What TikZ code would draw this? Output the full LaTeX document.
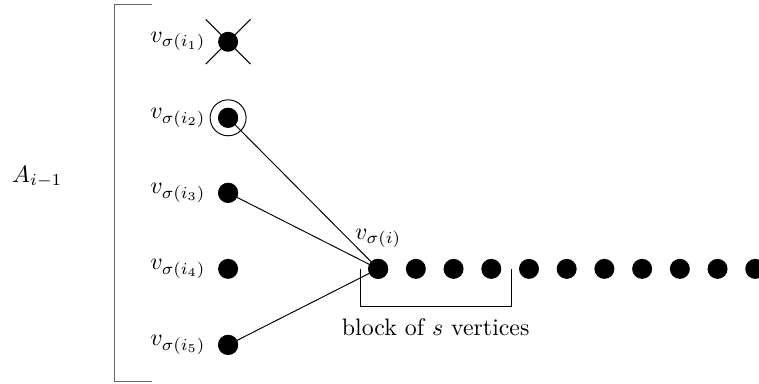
\documentclass[tikz,border=0pt]{standalone}
\usetikzlibrary{calc, positioning}
\begin{document}
\begin{tikzpicture}[dot/.style={circle, fill=black, inner sep=0pt, minimum size=0.295cm},
    label distance=1.5pt]
    \useasboundingbox (0, 0) rectangle (11.19, 5.66);
    % the set A_{i-1}
    \draw [gray!80!black] (2.242, 5.59)
    -- (1.681, 5.59)
    -- (1.681, 0.03)
    -- (2.242, 0.03);
    \node (A) at (0.55, 3.05) {$A_{i-1}$};
    % vertices of A_{i-1}
    \node [dot, label={left:$v_{\sigma(i_1)}$}] (s1) at (3.363, 5.044) {};
    \node [dot, label={left:$v_{\sigma(i_2)}$}] (s2) at (3.363, 3.923) {};
    \node [dot, label={left:$v_{\sigma(i_3)}$}] (s3) at (3.363, 2.817) {};
    \node [dot, label={left:$v_{\sigma(i_4)}$}] (s4) at (3.363, 1.696) {};
    \node [dot, label={left:$v_{\sigma(i_5)}$}] (s5) at (3.363, 0.575) {};
    % crossed out and circled
    \draw (s1) ++(-0.33, 0.33) coordinate (c1) -- ++(0.66, -0.66) coordinate (c2);
    \draw (s1) ++(0.33, 0.33) coordinate (c3) -- ++(-0.66, -0.66) coordinate (c4);
    \node [draw, circle, minimum size=0.53cm, inner sep=0pt] (o2) at (s2) {};
    % the row of vertices
    \foreach \k in {0, ..., 10}
        \node [dot] (r\k) at (5.575 + 0.556*\k, 1.696) {};
    \node [above=1pt of r0] (vi) {$v_{\sigma(i)}$};
    % edges
    \draw (s2.center) -- (r0.center);
    \draw (s3.center) -- (r0.center);
    \draw (s5.center) -- (r0.center);
    \node [dot] at (r0) {};
    \node [dot] at (s2) {};
    \node [dot] at (s3) {};
    \node [dot] at (s5) {};
    % block
    \coordinate (b1) at (5.31, 1.696);
    \coordinate (b2) at (7.537, 1.696);
    \draw (b1) -- ++(0, -0.56) coordinate (b3) -- (b3 -| b2) coordinate (b4) -- (b2);
    \node [below=0.05cm] (blk) at ($(b3)!0.5!(b4)$) {block of $s$ vertices};
\end{tikzpicture}
\end{document}
